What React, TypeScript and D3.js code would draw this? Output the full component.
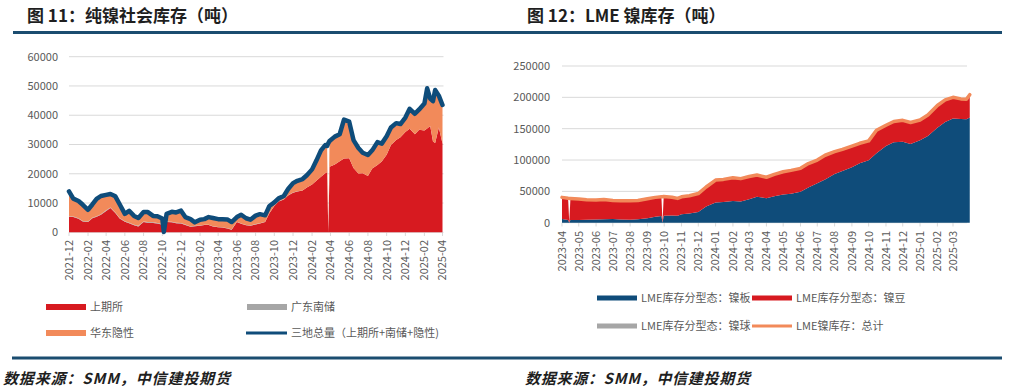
import React from 'react';
import * as d3 from 'd3';

// ---- 图11 纯镍社会库存（吨）----
const leftDates = [
  '2021-12-01', '2021-12-15', '2022-01-01', '2022-01-15', '2022-02-01', '2022-02-15', '2022-03-01', '2022-03-15', '2022-04-01', '2022-04-15',
  '2022-05-01', '2022-05-15', '2022-06-01', '2022-06-15', '2022-07-01', '2022-07-15', '2022-08-01', '2022-08-15', '2022-09-01', '2022-09-15',
  '2022-10-01', '2022-10-06', '2022-10-15', '2022-11-01', '2022-11-15', '2022-12-01', '2022-12-15', '2023-01-01', '2023-01-15', '2023-02-01',
  '2023-02-15', '2023-03-01', '2023-03-15', '2023-04-01', '2023-04-15', '2023-05-01', '2023-05-15', '2023-06-01', '2023-06-15', '2023-07-01',
  '2023-07-15', '2023-08-01', '2023-08-15', '2023-09-01', '2023-09-15', '2023-10-01', '2023-10-15', '2023-11-01', '2023-11-15', '2023-12-01',
  '2023-12-15', '2024-01-01', '2024-01-15', '2024-02-01', '2024-02-15', '2024-03-01', '2024-03-15', '2024-03-21', '2024-03-25', '2024-03-29',
  '2024-04-15', '2024-05-01', '2024-05-15', '2024-06-01', '2024-06-15', '2024-07-01', '2024-07-15', '2024-08-01', '2024-08-15', '2024-09-01',
  '2024-09-15', '2024-10-01', '2024-10-15', '2024-11-01', '2024-11-15', '2024-12-01', '2024-12-15', '2025-01-01', '2025-01-15', '2025-02-01',
  '2025-02-10', '2025-02-20', '2025-03-01', '2025-03-08', '2025-03-20', '2025-04-01',
];
const leftShfe = [
  5300, 5200, 4600, 3700, 3500, 4800, 5300, 6000, 7300, 8300,
  6600, 4700, 3600, 3100, 2400, 2000, 3500, 3300, 3200, 3000,
  2600, 1900, 3500, 3400, 3100, 3000, 2500, 1900, 2100, 2200,
  2500, 2500, 2000, 1700, 1600, 1300, 900, 3500, 2900, 2400,
  2200, 2700, 3000, 3500, 6500, 9000, 10500, 11200, 12600, 13500,
  13900, 14300, 15300, 16300, 17600, 19000, 20200, 20600, 0, 22400,
  23200, 24300, 25200, 25300, 22000, 20100, 20200, 19200, 21800, 23000,
  24200, 26500, 29800, 31500, 32500, 34300, 35400, 33500, 35000, 34800,
  35500, 36300, 31000, 30500, 35800, 30300,
];
const leftNanchu = [
  200, 200, 200, 200, 200, 200, 200, 200, 200, 200,
  200, 200, 200, 200, 200, 200, 200, 200, 200, 200,
  200, 200, 200, 200, 200, 200, 200, 100, 100, 100,
  100, 100, 100, 100, 100, 100, 100, 100, 100, 100,
  100, 100, 100, 100, 100, 100, 100, 100, 100, 100,
  100, 0, 0, 0, 0, 0, 0, 0, 0, 0,
  0, 0, 0, 0, 0, 0, 0, 0, 0, 0,
  0, 0, 0, 0, 0, 0, 0, 0, 0, 0,
  0, 0, 0, 0, 0, 0,
];
const leftHidden = [
  8500, 6100, 5900, 5500, 4000, 4500, 5900, 6200, 5300, 4600,
  5500, 4700, 2500, 4000, 3000, 2700, 3200, 3400, 2200, 2300,
  1900, 1500, 2600, 3400, 3500, 4200, 2500, 2500, 1200, 2000,
  1900, 2600, 2800, 2700, 2800, 3000, 2500, 1600, 3000, 2300,
  2000, 2900, 3100, 2200, 2400, 1100, 1000, 1100, 2100, 3200,
  3600, 3900, 4200, 5200, 6900, 9000, 9600, 8900, 0, 8800,
  9500, 9200, 13300, 12500, 9500, 8700, 7000, 7200, 6200, 7800,
  6100, 6300, 6000, 5800, 4500, 4900, 6800, 7000, 7000, 9200,
  13700, 9400, 13800, 18100, 10900, 13200,
];
const leftTotal = [
  14000, 11500, 10700, 9400, 7700, 9500, 11400, 12400, 12800, 13100,
  12300, 9600, 6300, 7300, 5600, 4900, 6900, 6900, 5600, 5500,
  4700, 100, 6300, 7000, 6800, 7400, 5200, 4500, 3400, 4300,
  4500, 5200, 4900, 4500, 4500, 4400, 3500, 5200, 6000, 4800,
  4300, 5700, 6200, 5800, 9000, 10200, 11600, 12400, 14800, 16800,
  17600, 18200, 19500, 21500, 24500, 28000, 29800, 29500, 30500, 31200,
  32700, 33500, 38500, 37800, 31500, 28800, 27200, 26400, 28000, 30800,
  30300, 32800, 35800, 37300, 37000, 39200, 42200, 40500, 42000, 44000,
  49200, 45700, 44800, 48600, 46700, 43500,
];
const leftYTicks = [0, 10000, 20000, 30000, 40000, 50000, 60000];
const leftLegend = ['上期所', '广东南储', '华东隐性', '三地总量（上期所+南储+隐性)'];

// ---- 图12 LME镍库存（吨）----
const rightDates = [
  '2023-04-01', '2023-04-12', '2023-04-14', '2023-04-16', '2023-05-01', '2023-05-15', '2023-06-01', '2023-06-15', '2023-07-01', '2023-07-15',
  '2023-08-01', '2023-08-15', '2023-09-01', '2023-09-15', '2023-09-26', '2023-09-28', '2023-09-30', '2023-10-15', '2023-10-25', '2023-11-01',
  '2023-11-15', '2023-12-01', '2023-12-15', '2024-01-01', '2024-01-15', '2024-02-01', '2024-02-15', '2024-03-01', '2024-03-15', '2024-04-01',
  '2024-04-15', '2024-05-01', '2024-05-15', '2024-06-01', '2024-06-15', '2024-07-01', '2024-07-15', '2024-08-01', '2024-08-15', '2024-09-01',
  '2024-09-15', '2024-10-01', '2024-10-15', '2024-11-01', '2024-11-15', '2024-12-01', '2024-12-15', '2025-01-01', '2025-01-15', '2025-02-01',
  '2025-02-15', '2025-03-01', '2025-03-15', '2025-03-25', '2025-03-31',
];
const rightPlate = [
  5900, 4400, 0, 4300, 4300, 4800, 5300, 5600, 5900, 5200,
  4800, 5500, 7200, 9500, 10500, 0, 11000, 11500, 11000, 13500,
  14500, 17200, 26000, 32200, 33000, 34600, 34000, 37300, 41500, 39000,
  42000, 45000, 46200, 49300, 56000, 62800, 69000, 77700, 82400, 88300,
  94800, 99500, 111000, 122300, 128500, 129300, 125500, 131500, 138500, 151500,
  160500, 166300, 165300, 165000, 168000,
];
const rightBriquette = [
  33300, 33400, 0, 33200, 32300, 30600, 29700, 30200, 28400, 28700,
  29100, 28600, 29900, 29700, 29600, 0, 29600, 27800, 26600, 26600,
  27300, 28100, 29800, 34800, 35100, 36200, 35300, 35300, 33600, 32500,
  34100, 35200, 36300, 36400, 37300, 36200, 37600, 34600, 33600, 33000,
  30900, 30000, 35500, 32200, 32000, 33000, 33300, 31500, 32500, 34700,
  34700, 32900, 31400, 31000, 35500,
];
const rightPellet = [
  1200, 1200, 0, 1200, 1200, 1200, 1200, 1200, 1200, 1200,
  1200, 1200, 1200, 1200, 1200, 0, 1200, 1200, 1200, 1200,
  1200, 1200, 1200, 1000, 1000, 1000, 1000, 1000, 1000, 1000,
  1000, 1000, 1000, 1000, 1000, 1000, 1000, 1000, 1000, 1000,
  1000, 1000, 1000, 1000, 1000, 1000, 1000, 800, 800, 800,
  800, 800, 800, 800, 800,
];
const rightTotal = [
  40400, 39000, 38800, 38700, 37800, 36600, 36200, 37000, 35500, 35100,
  35100, 35300, 38300, 40400, 41300, 41500, 41800, 40500, 38800, 41300,
  43000, 46500, 57000, 68000, 69100, 71800, 70300, 73600, 76100, 72500,
  77100, 81200, 83500, 86700, 94300, 100000, 107600, 113300, 117000, 122300,
  126700, 130500, 147500, 155500, 161500, 163300, 159800, 163800, 171800, 187000,
  196000, 200000, 197500, 196800, 204300,
];
const rightYTicks = [0, 50000, 100000, 150000, 200000, 250000];
const rightLegend = ['LME库存分型态：镍板', 'LME库存分型态：镍豆', 'LME库存分型态：镍球', 'LME镍库存：总计'];

const RED = '#d71a20';
const ORANGE = '#f28a5a';
const NAVY = '#0f4c7a';
const GRAY = '#a6a6a6';
const GRID = '#d9d9d9';
const TEXT = '#595959';
const FONT = "'Noto Sans CJK SC', 'Noto Sans', sans-serif";

const parse = d3.timeParse('%Y-%m-%d');
const fmt = d3.timeFormat('%Y-%m');

function LeftChart() {
  const x = d3.scaleTime().domain([new Date(2021, 11, 1), new Date(2025, 3, 1)]).range([69, 442.5]);
  const y = d3.scaleLinear().domain([0, 60000]).range([232.3, 56.7]);
  const rows = leftDates.map((d, i) => ({
    date: parse(d) as Date,
    shfe: leftShfe[i],
    nanchu: leftNanchu[i],
    hidden: leftHidden[i],
    total: leftTotal[i],
  }));
  const series = d3.stack<any>().keys(['shfe', 'nanchu', 'hidden'])(rows);
  const colors = [RED, GRAY, ORANGE];
  const area = d3.area<any>()
    .x(d => x(d.data.date))
    .y0(d => y(d[0]))
    .y1(d => y(d[1]));
  const line = d3.line<any>().x(d => x(d.date)).y(d => y(d.total));
  const ticks = d3.timeMonth.range(new Date(2021, 11, 1), new Date(2025, 3, 2), 2);

  return (
    <g>
      {leftYTicks.map(t => (
        <g key={t}>
          <line x1={69} x2={443.5} y1={y(t)} y2={y(t)} stroke={GRID} strokeWidth={1} />
          <text x={58} y={y(t)} dy="0.35em" textAnchor="end" fontSize={11} fill={TEXT}>{t}</text>
        </g>
      ))}
      {ticks.map(t => (
        <g key={+t}>
          <line x1={x(t)} x2={x(t)} y1={232.3} y2={236} stroke={GRID} />
          <text transform={`translate(${x(t)},240) rotate(-90)`} dy="0.35em" textAnchor="end" fontSize={11} fill={TEXT}>{fmt(t)}</text>
        </g>
      ))}
      {series.map((s, i) => (
        <path key={s.key} d={area(s) || ''} fill={colors[i]} />
      ))}
      <path d={line(rows) || ''} fill="none" stroke={NAVY} strokeWidth={4.5} strokeLinejoin="round" strokeLinecap="round" />

      {/* legend */}
      <rect x={46} y={304} width={40} height={6} fill={RED} />
      <text x={90} y={307} dy="0.35em" fontSize={11} fill={TEXT}>{leftLegend[0]}</text>
      <rect x={247} y={304} width={40} height={6} fill={GRAY} />
      <text x={291} y={307} dy="0.35em" fontSize={11} fill={TEXT}>{leftLegend[1]}</text>
      <rect x={46} y={330} width={40} height={6} fill={ORANGE} />
      <text x={90} y={333} dy="0.35em" fontSize={11} fill={TEXT}>{leftLegend[2]}</text>
      <line x1={246} x2={287} y1={333} y2={333} stroke={NAVY} strokeWidth={3} />
      <text x={291} y={333} dy="0.35em" fontSize={11} fill={TEXT}>{leftLegend[3]}</text>
    </g>
  );
}

function RightChart() {
  const x = d3.scaleTime().domain([new Date(2023, 3, 1), new Date(2025, 2, 1)]).range([562, 953]);
  const y = d3.scaleLinear().domain([0, 250000]).range([222.7, 66]);
  const rows = rightDates.map((d, i) => ({
    date: parse(d) as Date,
    plate: rightPlate[i],
    briquette: rightBriquette[i],
    pellet: rightPellet[i],
    total: rightTotal[i],
  }));
  const series = d3.stack<any>().keys(['plate', 'briquette', 'pellet'])(rows);
  const colors = [NAVY, RED, GRAY];
  const area = d3.area<any>()
    .x(d => x(d.data.date))
    .y0(d => y(d[0]))
    .y1(d => y(d[1]));
  const line = d3.line<any>().x(d => x(d.date)).y(d => y(d.total));
  const ticks = d3.timeMonth.range(new Date(2023, 3, 1), new Date(2025, 2, 2));

  return (
    <g>
      {rightYTicks.map(t => (
        <g key={t}>
          <line x1={562} x2={967} y1={y(t)} y2={y(t)} stroke={GRID} strokeWidth={1} />
          <text x={550} y={y(t)} dy="0.35em" textAnchor="end" fontSize={11} fill={TEXT}>{t}</text>
        </g>
      ))}
      {ticks.map(t => (
        <g key={+t}>
          <line x1={x(t)} x2={x(t)} y1={222.7} y2={226.5} stroke={GRID} />
          <text transform={`translate(${x(t)},231) rotate(-90)`} dy="0.35em" textAnchor="end" fontSize={11} fill={TEXT}>{fmt(t)}</text>
        </g>
      ))}
      {series.map((s, i) => (
        <path key={s.key} d={area(s) || ''} fill={colors[i]} />
      ))}
      <path d={line(rows) || ''} fill="none" stroke={ORANGE} strokeWidth={3.5} strokeLinejoin="round" strokeLinecap="round" />

      {/* legend */}
      <rect x={597} y={295.5} width={40} height={5} fill={NAVY} />
      <text x={641} y={298} dy="0.35em" fontSize={11} fill={TEXT}>{rightLegend[0]}</text>
      <rect x={752} y={295.5} width={40} height={5} fill={RED} />
      <text x={796} y={298} dy="0.35em" fontSize={11} fill={TEXT}>{rightLegend[1]}</text>
      <rect x={597} y={323.5} width={40} height={5} fill={GRAY} />
      <text x={641} y={326} dy="0.35em" fontSize={11} fill={TEXT}>{rightLegend[2]}</text>
      <line x1={752} x2={792} y1={326} y2={326} stroke={ORANGE} strokeWidth={3} />
      <text x={796} y={326} dy="0.35em" fontSize={11} fill={TEXT}>{rightLegend[3]}</text>
    </g>
  );
}

export default function App() {
  return (
    <div style={{ position: 'absolute', left: 0, top: 0 }}>
      <svg width={1010} height={392} style={{ display: 'block', background: '#fff', fontFamily: FONT }}>
        <text x={27} y={22} fontSize={17} fill="#1f1f1f" fontWeight="bold">图 11：纯镍社会库存（吨）</text>
        <text x={527} y={22} fontSize={17} fill="#1f1f1f" fontWeight="bold">图 12：LME 镍库存（吨）</text>
        <rect x={13} y={31} width={989} height={3} fill="#1b4d70" />

        <LeftChart />
        <RightChart />

        <rect x={12} y={356.5} width={990} height={3} fill="#1b4d70" />
        <text x={3} y={384} fontSize={15} fontStyle="italic" fontWeight="bold" fill="#1f1f1f" textLength={227} lengthAdjust="spacing">数据来源：SMM，中信建投期货</text>
        <text x={525} y={384} fontSize={15} fontStyle="italic" fontWeight="bold" fill="#1f1f1f" textLength={225} lengthAdjust="spacing">数据来源：SMM，中信建投期货</text>
      </svg>
    </div>
  );
}
